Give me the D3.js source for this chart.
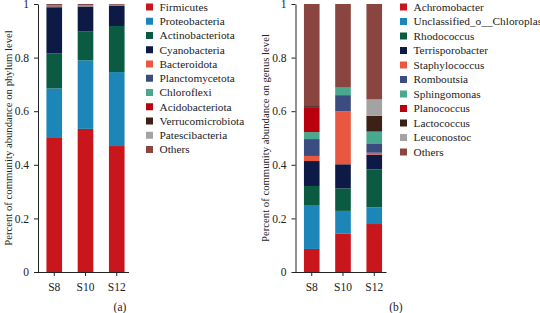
<!DOCTYPE html>
<html>
<head>
<meta charset="utf-8">
<script src="https://cdn.jsdelivr.net/npm/d3@7"></script>
<style>
  body { margin: 0; background: #fff; }
  svg text { font-family: "Liberation Serif", "DejaVu Serif", serif; fill: #222; }
</style>
</head>
<body>
<svg id="chart"></svg>
<script>
const samples = ["S8", "S10", "S12"];

const phylumNames = ["Firmicutes", "Proteobacteria", "Actinobacteriota", "Cyanobacteria", "Bacteroidota",
    "Planctomycetota", "Chloroflexi", "Acidobacteriota", "Verrucomicrobiota", "Patescibacteria", "Others"];
const phylumColors = ["#c8161c", "#1c86b8", "#0b5a42", "#0c1a45", "#e8573f",
    "#3b4d80", "#4aa88e", "#b8000e", "#3b2116", "#a3a3a3", "#8b4540"];
// one row per sample, values in legend order
const phylumS8 = [0.503, 0.182, 0.130, 0.173, 0.001, 0.001, 0.001, 0.001, 0.001, 0.001, 0.006];
const phylumS10 = [0.534, 0.256, 0.107, 0.093, 0.001, 0.001, 0.001, 0.001, 0.001, 0.001, 0.004];
const phylumS12 = [0.470, 0.276, 0.172, 0.075, 0.004, 0.000, 0.000, 0.000, 0.000, 0.000, 0.003];

const genusNames = ["Achromobacter", "Unclassified_o__Chloroplast", "Rhodococcus", "Terrisporobacter", "Staphylococcus",
    "Romboutsia", "Sphingomonas", "Planococcus", "Lactococcus", "Leuconostoc", "Others"];
const genusColors = ["#c8161c", "#1c86b8", "#0b5a42", "#0c1a45", "#e8573f",
    "#3b4d80", "#4aa88e", "#b8000e", "#3b2116", "#a3a3a3", "#8b4540"];
const genusS8 = [0.086, 0.164, 0.071, 0.093, 0.019, 0.063, 0.026, 0.093, 0.004, 0.000, 0.381];
const genusS10 = [0.144, 0.084, 0.084, 0.090, 0.198, 0.060, 0.028, 0.000, 0.000, 0.000, 0.312];
const genusS12 = [0.179, 0.062, 0.142, 0.055, 0.007, 0.035, 0.043, 0.002, 0.058, 0.061, 0.356];

const yTicks = [0, 0.2, 0.4, 0.6, 0.8, 1];

const width = 540, height = 313;
const svg = d3.select("#chart").attr("width", width).attr("height", height);

function toRows(names, rows) {
    return samples.map((s, i) => {
        const r = { sample: s };
        names.forEach((n, j) => r[n] = rows[i][j]);
        return r;
    });
}

function panel(opts) {
    const g = svg.append("g");
    const x0 = opts.axisX;
    const y = d3.scaleLinear().domain([0, 1]).range([272, 4]);
    const x = d3.scaleBand().domain(samples)
        .range([x0, x0 + 95]).paddingInner(0.5).paddingOuter(0.27);

    const rows = toRows(opts.names, opts.data);
    const stacked = d3.stack().keys(opts.names)(rows);
    const color = d3.scaleOrdinal().domain(opts.names).range(opts.colors);

    g.selectAll("g.layer")
        .data(stacked)
        .enter()
        .append("g")
        .attr("class", "layer")
        .attr("fill", d => color(d.key))
        .selectAll("rect")
        .data(d => d)
        .enter()
        .append("rect")
        .attr("x", d => x(d.data.sample))
        .attr("width", x.bandwidth())
        .attr("y", d => y(d[1]))
        .attr("height", d => Math.max(0, y(d[0]) - y(d[1])));

    // y axis
    const yAxis = g.append("g")
        .attr("transform", `translate(${x0},0)`)
        .call(d3.axisLeft(y).tickValues(yTicks).tickFormat(d => d === 0 || d === 1 ? d : d3.format(".1f")(d)).tickSizeInner(4).tickSizeOuter(0).tickPadding(5));
    yAxis.select(".domain").attr("stroke", "#222");
    yAxis.selectAll(".tick line").attr("stroke", "#222");
    yAxis.selectAll("text").style("font-size", "11.5px").attr("fill", "#222");

    // x axis
    const xAxis = g.append("g")
        .attr("transform", "translate(0,272)")
        .call(d3.axisBottom(x).tickSizeInner(4).tickSizeOuter(0).tickPadding(7));
    xAxis.select(".domain").attr("d", `M${x0 - 3},0.5H${x0 + 91}`).attr("stroke", "#222");
    xAxis.selectAll(".tick line").attr("stroke", "#222");
    xAxis.selectAll("text").style("font-size", "11.5px").attr("fill", "#222");

    g.append("text")
        .attr("transform", `translate(${opts.titleX},138) rotate(-90)`)
        .attr("text-anchor", "middle")
        .attr("dy", "0.35em")
        .style("font-size", "10.7px")
        .text(opts.title);

    g.append("text")
        .attr("x", opts.tagX)
        .attr("y", 307)
        .attr("text-anchor", "middle")
        .attr("dy", "0.35em")
        .style("font-size", "11.5px")
        .text(opts.tag);

    const leg = g.selectAll("g.legend")
        .data(opts.names)
        .enter()
        .append("g")
        .attr("class", "legend")
        .attr("transform", (d, i) => `translate(${opts.legendX},${opts.legendY + i * opts.legendStep})`);
    leg.append("rect")
        .attr("x", 0).attr("y", -3.5)
        .attr("width", 7).attr("height", 7)
        .attr("fill", d => color(d));
    leg.append("text")
        .attr("x", 13.5)
        .attr("dy", "0.35em")
        .style("font-size", "11.3px")
        .text(d => d);
}

panel({
    axisX: 38, names: phylumNames, colors: phylumColors,
    data: [phylumS8, phylumS10, phylumS12],
    title: "Percent of community abundance on phylum level", titleX: 8,
    tag: "(a)", tagX: 120,
    legendX: 146, legendY: 7, legendStep: 14.25
});

panel({
    axisX: 295.5, names: genusNames, colors: genusColors,
    data: [genusS8, genusS10, genusS12],
    title: "Percent of community abundance on genus level", titleX: 265,
    tag: "(b)", tagX: 396,
    legendX: 400, legendY: 7, legendStep: 14.5
});
</script>
</body>
</html>
